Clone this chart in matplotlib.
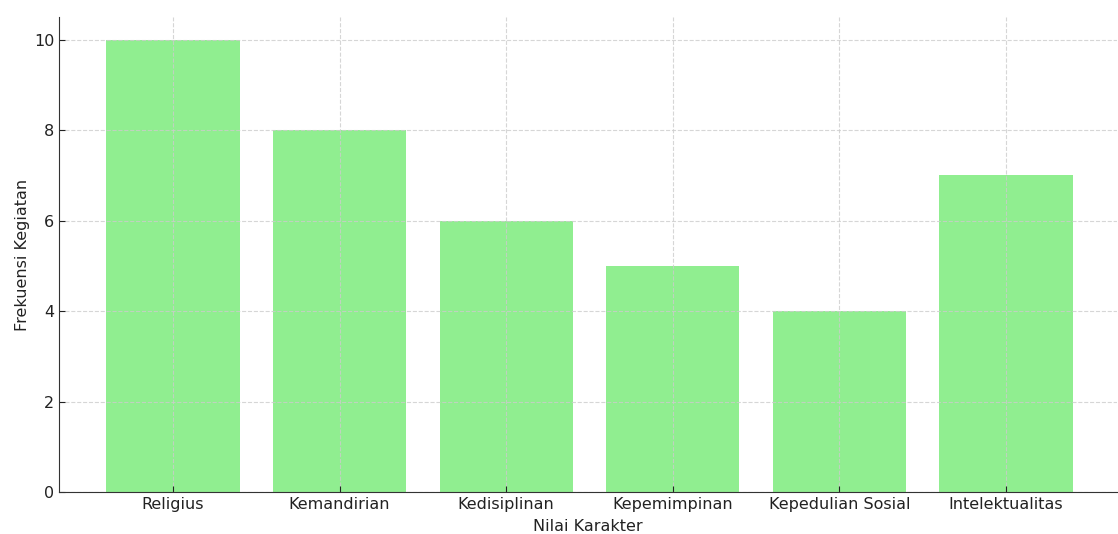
import matplotlib

matplotlib.use("Agg")
import matplotlib.pyplot as plt

categories = ["Religius", "Kemandirian", "Kedisiplinan", "Kepemimpinan", "Kepedulian Sosial", "Intelektualitas"]
frequencies = [10, 8, 6, 5, 4, 7]

plt.rcParams["font.family"] = "DejaVu Sans"
plt.rcParams["text.color"] = "#222222"
plt.rcParams["axes.labelcolor"] = "#222222"
plt.rcParams["xtick.color"] = "#222222"
plt.rcParams["ytick.color"] = "#222222"

fig = plt.figure(figsize=(11.18, 5.34), dpi=100)
ax = fig.add_axes([59 / 1118, 42 / 534, (1117 - 59) / 1118, (492 - 17) / 534])

ax.bar(categories, frequencies, width=0.8, color="#90EE90")
ax.set_xlim(-0.684, 5.666)
ax.set_ylim(0, 10.5)
ax.set_xlabel("Nilai Karakter", fontsize=11.5, labelpad=5)
ax.set_ylabel("Frekuensi Kegiatan", fontsize=11.5, labelpad=3)
ax.tick_params(direction="in", labelsize=11.5, length=4)
ax.grid(True, linestyle="--", color="#cccccc", linewidth=0.8, alpha=0.8)
for side in ("top", "right"):
    ax.spines[side].set_visible(False)
for side in ("left", "bottom"):
    ax.spines[side].set_color("#333333")

fig.savefig("out.png", dpi=100)
